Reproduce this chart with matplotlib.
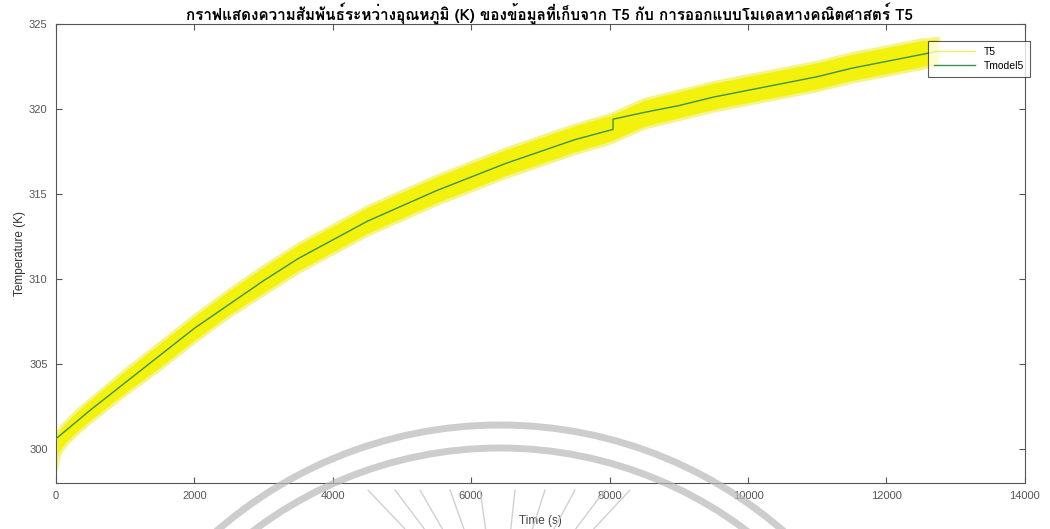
import numpy as np
import matplotlib
matplotlib.use("Agg")
import matplotlib.pyplot as plt
from matplotlib import font_manager
from matplotlib.ft2font import FT2Font
from matplotlib.patches import Circle

# ---- data -------------------------------------------------------------
model_time = [0, 500, 1000, 1500, 2000, 2500, 3000, 3500, 4000, 4500, 5000,
              5500, 6000, 6500, 7000, 7500, 8050, 8050, 8500, 9000, 9500,
              10000, 10500, 11000, 11500, 12000, 12500, 12750]
model_temp = [300.6, 302.3, 303.9, 305.5, 307.1, 308.5, 309.9, 311.2, 312.3,
              313.4, 314.3, 315.2, 316.0, 316.8, 317.5, 318.2, 318.8, 319.4,
              319.8, 320.2, 320.7, 321.1, 321.5, 321.9, 322.4, 322.8, 323.2,
              323.4]

t5_time = [0, 60, 150, 300, 500, 1000, 1500, 2000, 2500, 3000, 3500, 4000,
           4500, 5000, 5500, 6000, 6500, 7000, 7500, 8000, 8500, 9000, 9500,
           10000, 10500, 11000, 11500, 12000, 12500, 12750]
t5_low = [298.8, 299.8, 300.3, 300.9, 301.6, 303.2, 304.7, 306.3, 307.8,
          309.1, 310.4, 311.5, 312.6, 313.5, 314.4, 315.2, 316.0, 316.7,
          317.4, 318.0, 318.9, 319.4, 319.9, 320.3, 320.7, 321.1, 321.6,
          322.0, 322.4, 322.6]
t5_high = [300.9, 301.3, 301.7, 302.3, 303.0, 304.7, 306.3, 307.9, 309.4,
           310.8, 312.1, 313.2, 314.3, 315.2, 316.1, 316.9, 317.7, 318.4,
           319.1, 319.7, 320.6, 321.1, 321.6, 322.0, 322.4, 322.8, 323.3,
           323.7, 324.1, 324.2]

x_ticks = [0, 2000, 4000, 6000, 8000, 10000, 12000, 14000]
y_ticks = [300, 305, 310, 315, 320, 325]

title = ("กราฟแสดงความสัมพันธ์ระหว่างอุณหภูมิ (K) ของข้อมูลที่เก็บจาก T5 กับ "
         "การออกแบบโมเดลทางคณิตศาสตร์ T5")


def thai_fonts():
    """Installed families that cover Thai script."""
    names = set()
    for f in font_manager.fontManager.ttflist:
        try:
            cmap = FT2Font(f.fname).get_charmap()
        except Exception:
            continue
        if 0x0E01 in cmap and 0x0E2A in cmap:
            names.add(f.name)
    return names


available = thai_fonts()
preferred = ["Loma", "Tahoma", "Noto Sans Thai Looped", "Sarabun",
             "Noto Sans Thai"]
pick = next((p for p in preferred if p in available), None)
base = "Liberation Sans"
title_family = [pick, base] if pick else [base]

plt.rcParams["font.family"] = [base, "DejaVu Sans"]

fig = plt.figure(figsize=(10.5, 5.29), dpi=100)
ax = fig.add_axes([0.0533, 0.087, 0.9227, 0.8676])

ax.fill_between(t5_time, t5_low, t5_high, color="#f2f20c",
                edgecolor="#f5f48a", linewidth=2.0, zorder=2)
ax.plot([], [], color="#eeee70", lw=1.0, label="T5")
ax.plot(model_time, model_temp, color="#3d9150", lw=1.0, zorder=3,
        label="Tmodel5")

ax.set_xlim(0, 14000)
ax.set_ylim(298, 325)
ax.set_xticks(x_ticks)
ax.set_yticks(y_ticks)
ax.tick_params(direction="in", length=4, width=0.8, colors="#555555",
               labelsize=8, top=True, right=True, pad=6)
for s in ax.spines.values():
    s.set_color("#555555")
    s.set_linewidth(0.8)

ax.set_xlabel("Time (s)", fontsize=8.5, color="#444444", labelpad=10)
ax.set_ylabel("Temperature (K)", fontsize=8.5, color="#333333", labelpad=2)
ax.set_title(title, fontsize=11, fontweight="bold", family=title_family,
             pad=3, x=0.509)

leg = ax.legend(loc="upper right", fontsize=7.5, frameon=True, fancybox=False,
                edgecolor="#333333", handlelength=4.0, borderpad=0.55,
                labelspacing=0.4, borderaxespad=0,
                bbox_to_anchor=(1.005, 0.963))
leg.get_frame().set_linewidth(0.8)

# faint seal printed on the page behind the chart
ov = fig.add_axes([0, 0, 1, 1], zorder=5)
ov.set_xlim(0, 1050)
ov.set_ylim(529, 0)
ov.axis("off")
for r in (432, 409):
    ov.add_patch(Circle((500, 857), r, fill=False, edgecolor="#b8b8b8",
                        linewidth=5, alpha=0.7))
ray_tops = [368, 395, 420, 450, 480, 515, 545, 575, 605, 630]
for xt in ray_tops:
    ov.annotate("", xy=(500 + (xt - 500) * 0.72, 529), xytext=(xt, 490),
                arrowprops=dict(arrowstyle="-", color="#d0d0d0", lw=1.0,
                                shrinkA=0, shrinkB=0))

fig.savefig("out.png", dpi=100)
